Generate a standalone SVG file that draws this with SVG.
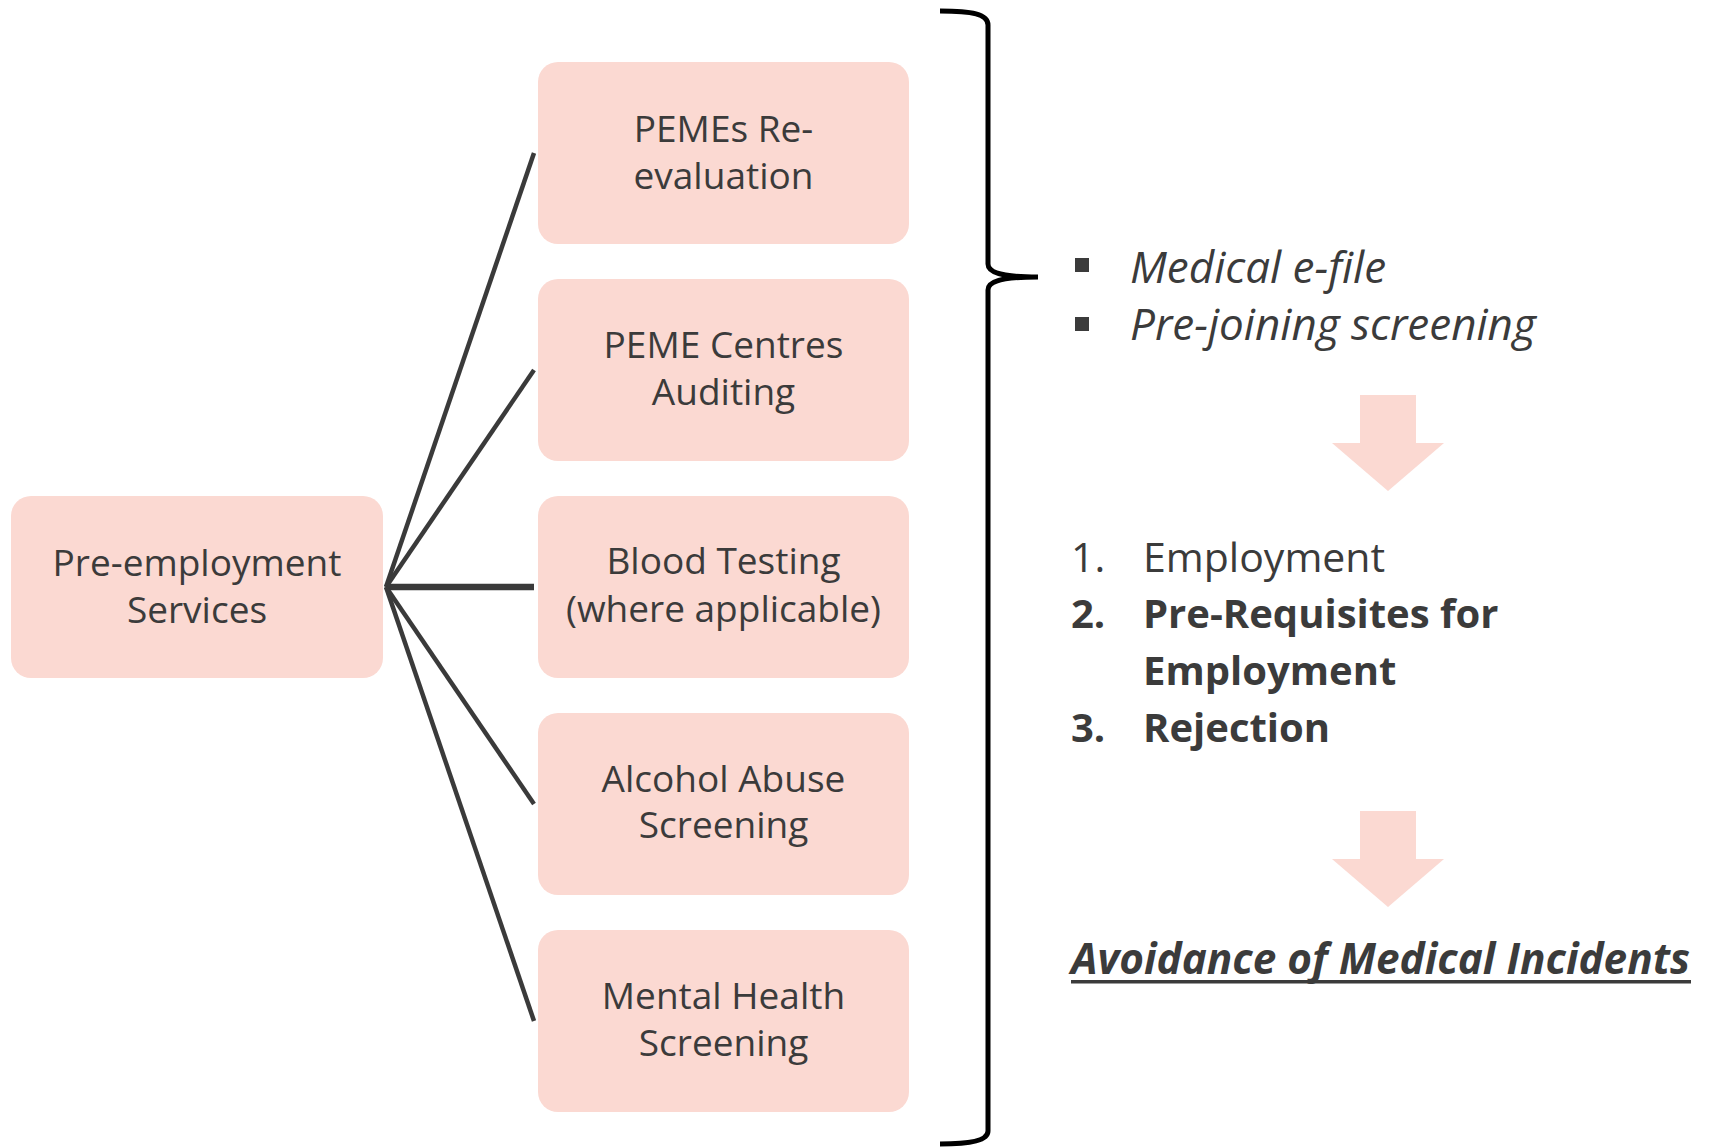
<svg xmlns="http://www.w3.org/2000/svg" width="1710" height="1147" viewBox="0 0 1710 1147">
<style>
.box{fill:#FBD9D2;}
.t{font-family:"Open Sans","Liberation Sans",sans-serif;font-size:37px;fill:#3b3b3b;text-anchor:middle;}
.r{font-family:"Open Sans","Liberation Sans",sans-serif;fill:#3b3b3b;}
.conn{stroke:#3a3a3a;stroke-width:4.5;fill:none;stroke-linecap:butt;}
.arrow{fill:#FBD9D2;}
</style>
<rect width="1710" height="1147" fill="#ffffff"/>
<g id="connectors">
<line class="conn" x1="386" y1="587" x2="534" y2="153"/>
<line class="conn" x1="386" y1="587" x2="534" y2="370"/>
<line class="conn" x1="386" y1="587" x2="534" y2="587" style="stroke-width:6.5"/>
<line class="conn" x1="386" y1="587" x2="534" y2="804"/>
<line class="conn" x1="386" y1="587" x2="534" y2="1021"/>
</g>
<g id="node-pre-employment">
<rect class="box" x="11" y="496" width="372" height="182" rx="20"/>
<text class="t" x="197" y="576">Pre-employment</text>
<text class="t" x="197" y="623">Services</text>
</g>
<g id="node-pemes">
<rect class="box" x="538" y="62" width="371" height="182" rx="20"/>
<text class="t" x="723.5" y="142">PEMEs Re-</text>
<text class="t" x="723.5" y="189">evaluation</text>
</g>
<g id="node-centres">
<rect class="box" x="538" y="279" width="371" height="182" rx="20"/>
<text class="t" x="723.5" y="358">PEME Centres</text>
<text class="t" x="723.5" y="405">Auditing</text>
</g>
<g id="node-blood">
<rect class="box" x="538" y="496" width="371" height="182" rx="20"/>
<text class="t" x="723.5" y="574">Blood Testing</text>
<text class="t" x="723.5" y="622">(where applicable)</text>
</g>
<g id="node-alcohol">
<rect class="box" x="538" y="713" width="371" height="182" rx="20"/>
<text class="t" x="723.5" y="792">Alcohol Abuse</text>
<text class="t" x="723.5" y="838">Screening</text>
</g>
<g id="node-mental">
<rect class="box" x="538" y="930" width="371" height="182" rx="20"/>
<text class="t" x="723.5" y="1009">Mental Health</text>
<text class="t" x="723.5" y="1056">Screening</text>
</g>
<g id="brace">
<path d="M940,11 C972,11 988,14 988,25 L988,264 C988,272 1000,277 1038,277 C1000,277 988,282 988,290 L988,1131 C988,1140 972,1144 940,1144" fill="none" stroke="#000" stroke-width="5"/>
</g>
<g id="bullets">
<rect x="1075" y="258" width="14" height="14" fill="#3b3b3b"/>
<rect x="1075" y="317" width="14" height="14" fill="#3b3b3b"/>
<text class="r" x="1130" y="283" font-size="44" font-style="italic">Medical e-file</text>
<text class="r" x="1130" y="340" font-size="44" font-style="italic">Pre-joining screening</text>
</g>
<g id="arrow1">
<polygon class="arrow" points="1360,395 1416,395 1416,443 1444,443 1388,491 1332,443 1360,443"/>
</g>
<g id="list">
<text class="r" x="1071" y="572" font-size="41">1.</text>
<text class="r" x="1143" y="572" font-size="41">Employment</text>
<text class="r" x="1071" y="628" font-size="40" font-weight="bold">2.</text>
<text class="r" x="1143" y="628" font-size="40" font-weight="bold">Pre-Requisites for</text>
<text class="r" x="1143" y="685" font-size="40" font-weight="bold">Employment</text>
<text class="r" x="1071" y="742" font-size="40" font-weight="bold">3.</text>
<text class="r" x="1143" y="742" font-size="40" font-weight="bold">Rejection</text>
</g>
<g id="arrow2">
<polygon class="arrow" points="1360,811 1416,811 1416,859 1444,859 1388,907 1332,859 1360,859"/>
</g>
<g id="result">
<text class="r" x="1071" y="974" font-size="42.3" font-weight="bold" font-style="italic">Avoidance of Medical Incidents</text>
<rect x="1071" y="980" width="620" height="3.5" fill="#3b3b3b"/>
</g>
</svg>
